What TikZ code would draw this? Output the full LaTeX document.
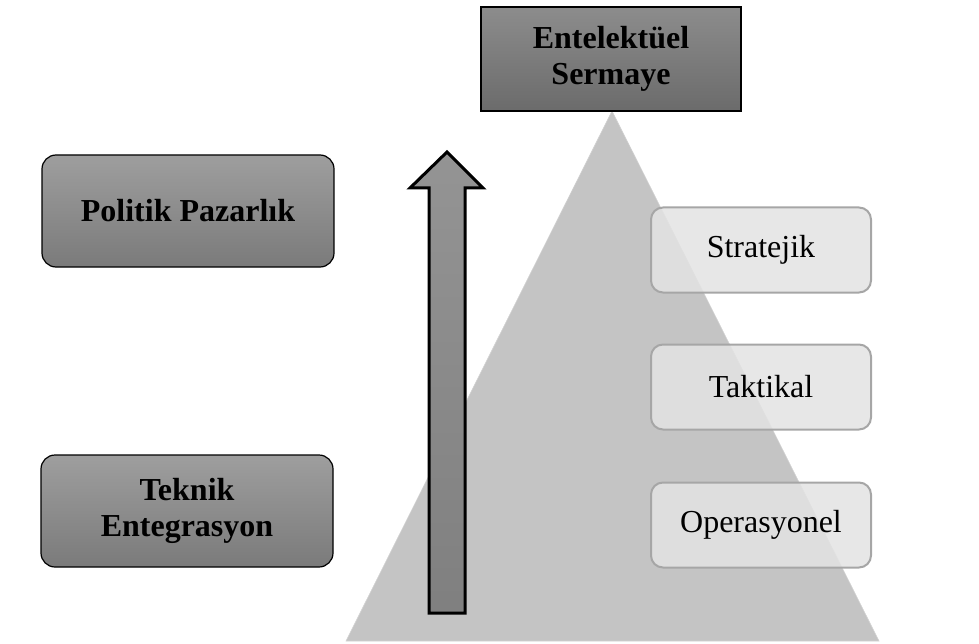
\documentclass[tikz,border=0pt]{standalone}
\usepackage{fontspec}
\setmainfont{Liberation Serif}
\usetikzlibrary{calc}

\tikzset{
        darkbox/.style={draw=black, line width=1.2pt, rounded corners=14pt,
                top color=black!38, bottom color=black!52,
                minimum width=292pt, minimum height=112pt, align=center,
                font=\fontsize{32}{36}\selectfont\bfseries},
        topbox/.style={draw=black, line width=1.2pt,
                top color=black!45, bottom color=black!58,
                minimum width=260pt, minimum height=104pt, align=center,
                font=\fontsize{32}{36}\selectfont\bfseries},
        levelbox/.style={draw=black!35, line width=2pt, rounded corners=12pt,
                fill=black!11, fill opacity=0.85, text opacity=1,
                minimum width=220pt, minimum height=85pt,
                font=\fontsize{32}{36}\selectfont},
}

\begin{document}
\begin{tikzpicture}[x=1pt, y=-1pt]
        \useasboundingbox (0, 0) rectangle (979, 644);

        \coordinate (apex) at (612, 111);
        \coordinate (baseL) at (346, 641);
        \coordinate (baseR) at (879, 641);

        \filldraw[fill=black!23, draw=black!18, line width=0.6pt] (apex) -- (baseL) -- (baseR) -- cycle;

        \coordinate (tip) at (447, 152);
        \coordinate (headL) at (410, 188);
        \coordinate (headR) at (483, 188);
        \coordinate (shaftL) at (429, 188);
        \coordinate (shaftR) at (465, 188);
        \coordinate (footL) at (429, 613);
        \coordinate (footR) at (465, 613);

        \draw[line width=3pt, line join=miter, top color=black!42, bottom color=black!50]
                (tip) -- (headR) -- (shaftR) -- (footR) -- (footL) -- (shaftL) -- (headL) -- cycle;

        \node[topbox] (capital) at (611, 59) {Entelektüel\\Sermaye};

        \node[darkbox] (political) at (188, 211) {Politik Pazarlık};
        \node[darkbox] (technical) at (187, 511) {Teknik\\Entegrasyon};

        \node[levelbox] (strategic) at (761, 250) {Stratejik};
        \node[levelbox] (tactical) at (761, 387) {Taktikal};
        \node[levelbox] (operational) at (761, 525) {Operasyonel};

    \end{tikzpicture}
\end{document}
